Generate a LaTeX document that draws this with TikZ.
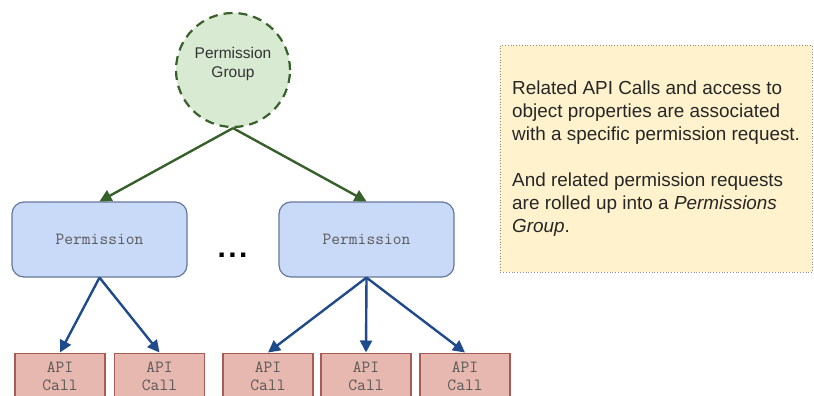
\documentclass[tikz,border=0pt]{standalone}
\usepackage{fontspec}
\setmainfont{Liberation Sans}
\usetikzlibrary{arrows.meta}
\definecolor{grfill}{HTML}{D9EAD3}
\definecolor{grline}{HTML}{38602A}
\definecolor{blfill}{HTML}{C9DAF8}
\definecolor{blline}{HTML}{64789A}
\definecolor{blarrow}{HTML}{1F4A8C}
\definecolor{apifill}{HTML}{E6B8AF}
\definecolor{apiline}{HTML}{A65C55}
\definecolor{notefill}{HTML}{FFF2CC}
\definecolor{txtgray}{HTML}{595959}
\tikzset{
  group/.style={circle, draw=grline, fill=grfill, dashed, dash pattern=on 9pt off 6pt, line width=2.2pt, minimum size=114pt, inner sep=0pt},
  grouptext/.style={align=center, font=\fontsize{15.5}{19}\selectfont, text=black!80, inner sep=0pt},
  permbox/.style={draw=blline, fill=blfill, rounded corners=12pt, line width=1.2pt, minimum width=175pt, minimum height=75pt, font=\ttfamily\fontsize{17}{19}\selectfont, text=txtgray},
  apibox/.style={draw=apiline, fill=apifill, line width=1.2pt, minimum width=90pt, minimum height=46pt, anchor=north, align=center, font=\ttfamily\fontsize{17}{18.5}\selectfont, text=txtgray, inner sep=0pt},
  garrow/.style={draw=grline, line width=2.4pt, -{Triangle[length=12pt,width=12pt]}},
  barrow/.style={draw=blarrow, line width=2.4pt, -{Triangle[length=12pt,width=12pt]}},
}
\begin{document}
\begin{tikzpicture}[x=1pt,y=-1pt]
\useasboundingbox (0,0) rectangle (814,396);
\clip (0,0) rectangle (814,396);
\node[group] (pg) at (233,70) {};
\node[grouptext] (pgtext) at (233,64) {Permission\\Group};
\node[permbox] (p1) at (99.5,239.5) {Permission};
\node[permbox] (p2) at (366.5,239.5) {Permission};
\node[font=\fontsize{30}{30}\selectfont\bfseries, anchor=base] (dots) at (232.5,257) {.\hspace{2.5pt}.\hspace{2.5pt}.};
\node[apibox] (a1) at (60,352.5) {API\\Call};
\node[apibox] (a2) at (159.5,352.5) {API\\Call};
\node[apibox] (a3) at (268,352.5) {API\\Call};
\node[apibox] (a4) at (366,352.5) {API\\Call};
\node[apibox] (a5) at (465,352.5) {API\\Call};
\draw[garrow] (pg.south) -- (p1.north);
\draw[garrow] (pg.south) -- (p2.north);
\draw[barrow] (p1.south) -- (a1.north);
\draw[barrow] (p1.south) -- (a2.north);
\draw[barrow] (p2.south) -- (a3.north);
\draw[barrow] (p2.south) -- (a4.north);
\draw[barrow] (p2.south) -- (a5.north);
\node[draw=black!45, fill=notefill, dotted, line width=0.8pt, minimum width=312pt, minimum height=227pt, anchor=north west, inner sep=0pt] (note) at (500,45) {};
\node[anchor=north west, align=left, font=\fontsize{18.9}{23}\selectfont, text=black!85, inner sep=0pt] (notetext) at (512,81) {Related API Calls and access to\\object properties are associated\\with a specific permission request.\\[23pt]And related permission requests\\are rolled up into a \textit{Permissions}\\\textit{Group}.};
\end{tikzpicture}
\end{document}
